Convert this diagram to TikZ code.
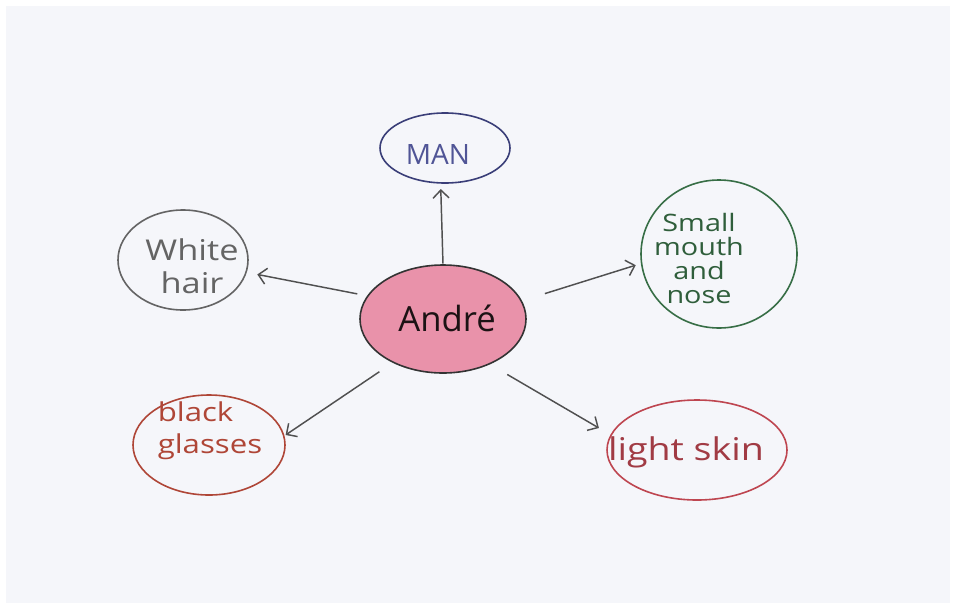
\documentclass[tikz,border=0pt]{standalone}
\usepackage{fontspec}
\setmainfont{Open Sans}
\newfontfamily\handwide[FakeStretch=1.2]{Open Sans}
\usetikzlibrary{shapes.geometric,arrows.meta}
\definecolor{paper}{RGB}{245,246,250}
\definecolor{pinkfill}{RGB}{233,146,170}
\definecolor{manblue}{RGB}{58,62,120}
\definecolor{mantext}{RGB}{80,85,150}
\definecolor{hairgrey}{RGB}{100,100,100}
\definecolor{mouthgreen}{RGB}{55,110,70}
\definecolor{glassred}{RGB}{175,70,55}
\definecolor{skinred}{RGB}{190,70,80}
\definecolor{arrowgrey}{RGB}{80,80,80}
\tikzset{
  bubble/.style={ellipse, draw, line width=1.2pt, inner sep=0pt},
  label text/.style={inner sep=0pt, align=center},
  link/.style={draw=arrowgrey, line width=1.1pt, -{Straight Barb[length=6pt,width=12pt,line width=1.1pt]}},
}
\begin{document}
\begin{tikzpicture}[x=0.75pt,y=-0.75pt]
  \fill[white] (0,0) rectangle (955,607);
  \fill[paper] (6,6) rectangle (950,603);
  \useasboundingbox (0,0) rectangle (955,607);

  % bubbles
  \node[bubble, draw=black!80, fill=pinkfill, minimum width=124.5pt, minimum height=81pt] (andre) at (443,319) {};
  \node[bubble, draw=manblue, minimum width=97.5pt, minimum height=52.5pt] (man) at (445,148) {};
  \node[bubble, draw=hairgrey, minimum width=97.5pt, minimum height=75pt] (hair) at (183,260) {};
  \node[bubble, draw=mouthgreen, minimum width=117pt, minimum height=111pt] (mouth) at (719,254) {};
  \node[bubble, draw=glassred, minimum width=114pt, minimum height=75pt] (glasses) at (209,445) {};
  \node[bubble, draw=skinred, minimum width=135pt, minimum height=75pt] (skin) at (697,450) {};

  % texts
  \node[label text, font=\fontsize{26}{28}\selectfont, text=black!80!pinkfill!60!black] (andre-t) at (447,318) {André};
  \node[label text, font=\fontsize{21}{24}\selectfont, text=mantext] (man-t) at (438,154) {MAN};
  \node[label text, font=\handwide\fontsize{21.5}{25}\selectfont, text=hairgrey] (hair-t) at (192,266) {White\\hair};
  \node[label text, font=\handwide\fontsize{18}{18}\selectfont, text=mouthgreen!85!black] (mouth-t) at (699,258) {Small\\mouth\\and\\nose};
  \node[label text, align=left, font=\handwide\fontsize{19.5}{24}\selectfont, text=glassred] (glasses-t) at (210,431) {black\\glasses};
  \node[label text, font=\handwide\fontsize{23.5}{26}\selectfont, text=skinred!85!black] (skin-t) at (686,452) {light skin};

  % connectors
  \draw[link, shorten <=0.5pt, shorten >=4pt] (andre.90) -- (man.263);
  \draw[link, shorten <=7.5pt, shorten >=8pt] (andre.163) -- (hair.-11.5);
  \draw[link, shorten <=18pt, shorten >=4pt] (andre.13) -- (mouth.187.6);
  \draw[link, shorten <=12pt, shorten >=1pt] (andre.221.5) -- (glasses.7.5);
  \draw[link, shorten <=15pt, shorten >=10pt] (andre.-44.5) -- (skin.170.3);
\end{tikzpicture}
\end{document}
